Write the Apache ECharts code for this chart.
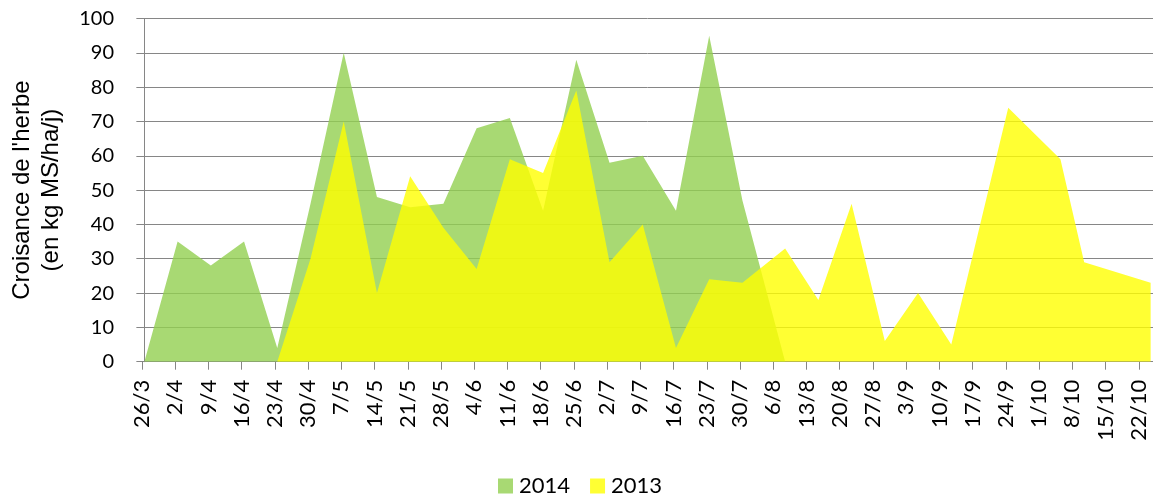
<!DOCTYPE html>
<html>
<head>
<meta charset="utf-8">
<script src="https://cdn.jsdelivr.net/npm/echarts@6/dist/echarts.min.js"></script>
<style>
  html, body { margin: 0; padding: 0; background: #fff; }
  #chart { width: 1153px; height: 498px; }
</style>
</head>
<body>
<div id="chart"></div>
<script>
// semaines (26/3 = jour 0)
var weekLabels = ['26/3', '2/4', '9/4', '16/4', '23/4', '30/4', '7/5', '14/5', '21/5', '28/5',
  '4/6', '11/6', '18/6', '25/6', '2/7', '9/7', '16/7', '23/7', '30/7', '6/8',
  '13/8', '20/8', '27/8', '3/9', '10/9', '17/9', '24/9', '1/10', '8/10', '15/10', '22/10']

// 2014 : jour depuis le 26/3, croissance
var days2014 = [0, 7, 14, 21, 28, 35, 42, 49, 56, 63, 70, 77, 84, 91, 98, 105, 112, 119, 126, 135]
var values2014 = [0, 35, 28, 35, 4, 46, 90, 48, 45, 46, 68, 71, 44, 88, 58, 60, 44, 95, 47, 0]

// 2013
var days2013 = [28, 35, 42, 49, 56, 63, 70, 77, 84, 91, 98, 105, 112, 119, 126,
  135, 142, 149, 156, 163, 170, 182, 193, 198, 212]
var values2013 = [0, 30, 70, 20, 54, 39, 27, 59, 55, 79, 29, 40, 4, 24, 23,
  33, 18, 46, 6, 20, 5, 74, 59, 29, 23]

var yTicks = [0, 10, 20, 30, 40, 50, 60, 70, 80, 90, 100]

function pairs (xs, ys) {
  var out = []
  for (var i = 0; i < xs.length; i++) out.push([xs[i], ys[i]])
  return out
}

// les graduations sont au debut de chaque jour
var tickValues = weekLabels.map(function (l, i) { return i * 7 - 0.5 })

var gray = '#868686'
var chart = echarts.init(document.getElementById('chart'), null, { renderer: 'canvas' })

chart.setOption({
  animation: false,
  grid: { left: 141.7, right: 0, top: 18.5, bottom: 136.3, containLabel: false },
  legend: {
    left: 493,
    top: 470,
    icon: 'rect',
    itemWidth: 15,
    itemHeight: 15,
    itemGap: 20,
    textStyle: { fontFamily: 'Lato', fontSize: 22, color: '#000', padding: [0, 0, 0, 1] },
    data: ['2014', '2013']
  },
  xAxis: {
    type: 'value',
    min: -0.5,
    max: 212.5,
    axisLine: { lineStyle: { color: gray, width: 1 } },
    axisTick: { show: true, length: 8, lineStyle: { color: gray }, customValues: tickValues },
    splitLine: { show: false },
    axisLabel: {
      customValues: tickValues,
      rotate: 90,
      margin: 18,
      fontFamily: 'Lato',
      fontSize: 22,
      color: '#000',
      formatter: function (v) {
        var i = Math.round((v + 0.5) / 7)
        return weekLabels[i] || ''
      }
    }
  },
  yAxis: {
    type: 'value',
    min: yTicks[0],
    max: yTicks[yTicks.length - 1],
    interval: 10,
    name: "Croisance de l'herbe\n(en kg MS/ha/j)",
    nameLocation: 'middle',
    nameRotate: 90,
    nameGap: 76,
    nameTextStyle: { fontFamily: 'Liberation Sans', fontSize: 24, lineHeight: 29, color: '#000', align: 'center' },
    axisLine: { show: true, lineStyle: { color: gray, width: 1 } },
    axisTick: { show: true, length: 8, lineStyle: { color: gray } },
    splitLine: { show: true, lineStyle: { color: gray, width: 1 } },
    axisLabel: { margin: 28, fontFamily: 'Lato', fontSize: 20, color: '#000' }
  },
  series: [
    {
      name: '2014',
      type: 'line',
      data: pairs(days2014, values2014),
      showSymbol: false,
      symbol: 'none',
      itemStyle: { color: 'rgba(146,208,80,0.8)' },
      lineStyle: { width: 0 },
      areaStyle: { color: 'rgba(146,208,80,0.8)', opacity: 1 }
    },
    {
      name: '2013',
      type: 'line',
      data: pairs(days2013, values2013),
      showSymbol: false,
      symbol: 'none',
      itemStyle: { color: 'rgba(255,255,0,0.8)' },
      lineStyle: { width: 0 },
      areaStyle: { color: 'rgba(255,255,0,0.8)', opacity: 1 }
    }
  ]
})
</script>
</body>
</html>
